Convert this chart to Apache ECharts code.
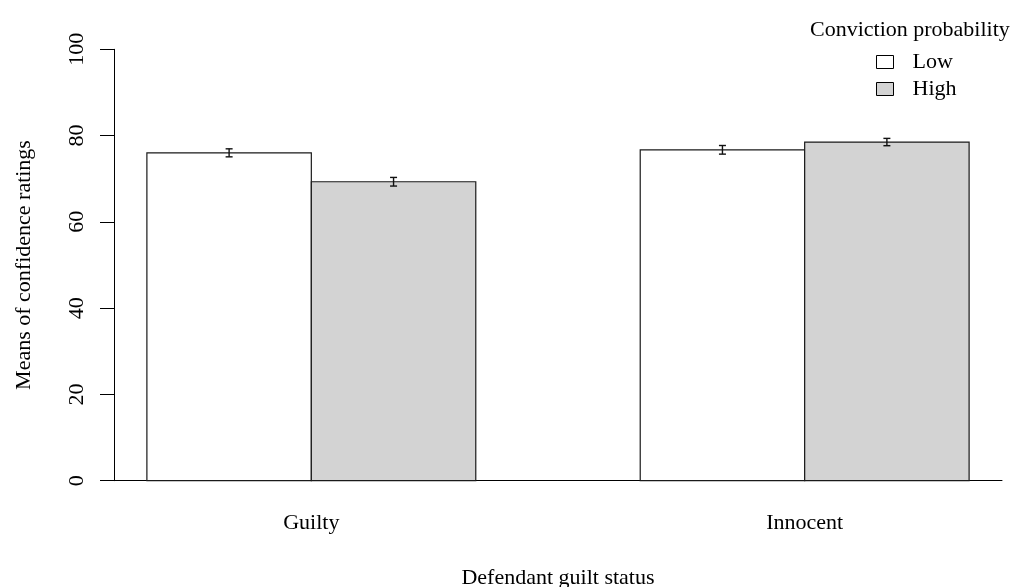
<!DOCTYPE html>
<html>
<head>
<meta charset="utf-8">
<script src="https://cdn.jsdelivr.net/npm/echarts@6/dist/echarts.min.js"></script>
<style>
  html, body { margin: 0; padding: 0; background: #ffffff; }
  #chart { width: 1016px; height: 587px; }
</style>
</head>
<body>
<div id="chart"></div>
<script>
// Mean confidence ratings by defendant guilt status and conviction probability
const categories = ['Guilty', 'Innocent'];
const levels = ['Low', 'High'];
const lowMeans = [76.0, 76.7];
const highMeans = [69.3, 78.5];
const lowSE = [0.93, 1.0];
const highSE = [1.0, 0.85];
const yTicks = [0, 20, 40, 60, 80, 100];

const FONT = "'Liberation Serif', 'DejaVu Serif', serif";
const fills = { Low: '#ffffff', High: '#d3d3d3' };

// barplot layout in bar-width units: one empty bar between groups, plus 0.2 padding
const groupCenter = i => 1.2 + 3 * i;
const barCenter = (i, j) => groupCenter(i) + (j - 0.5);

function seriesData(means, se, j) {
  return means.map((v, i) => [barCenter(i, j), v, se[i]]);
}

function barRenderer(fill) {
  return function (params, api) {
    const x = api.value(0);
    const v = api.value(1);
    const tl = api.coord([x - 0.5, v]);
    const br = api.coord([x + 0.5, 0]);
    return {
      type: 'rect',
      shape: { x: tl[0], y: tl[1], width: br[0] - tl[0], height: br[1] - tl[1] },
      style: { fill: fill, stroke: '#1a1a1a', lineWidth: 1.2 }
    };
  };
}

function errRenderer(params, api) {
  const x = api.value(0);
  const v = api.value(1);
  const se = api.value(2);
  const top = api.coord([x, v + se]);
  const bot = api.coord([x, v - se]);
  const half = 3.5;
  const st = { stroke: '#111', lineWidth: 1.4 };
  return {
    type: 'group',
    children: [
      { type: 'line', shape: { x1: top[0], y1: top[1], x2: bot[0], y2: bot[1] }, style: st },
      { type: 'line', shape: { x1: top[0] - half, y1: top[1], x2: top[0] + half, y2: top[1] }, style: st },
      { type: 'line', shape: { x1: bot[0] - half, y1: bot[1], x2: bot[0] + half, y2: bot[1] }, style: st }
    ]
  };
}

const chart = echarts.init(document.getElementById('chart'), null, { renderer: 'canvas', width: 1016, height: 587 });

const option = {
  backgroundColor: '#ffffff',
  animation: false,
  title: {
    text: 'Conviction probability',
    left: 810,
    top: 19,
    padding: 0,
    textStyle: { fontFamily: FONT, fontSize: 22, fontWeight: 'normal', color: '#000', lineHeight: 22 }
  },
  legend: {
    orient: 'vertical',
    left: 876,
    top: 51,
    padding: 0,
    itemWidth: 17,
    itemHeight: 13,
    itemGap: 5,
    icon: 'rect',
    textStyle: { fontFamily: FONT, fontSize: 22, color: '#000', lineHeight: 22, padding: [0, 0, 0, 14] },
    data: levels.map(l => ({
      name: l,
      itemStyle: { color: fills[l], borderColor: '#000', borderWidth: 1 }
    }))
  },
  grid: { left: 114, width: 888, top: 49.3, height: 431.4, outerBoundsMode: 'none', containLabel: false },
  xAxis: {
    type: 'value',
    min: 0,
    max: 5.4,
    interval: 0.6,
    splitLine: { show: false },
    axisTick: { show: false },
    axisLine: { show: true, onZero: false, lineStyle: { color: '#000', width: 1 } },
    axisLabel: {
      margin: 32,
      fontFamily: FONT,
      fontSize: 22,
      color: '#000',
      showMinLabel: false,
      showMaxLabel: false,
      formatter: function (val) {
        for (let i = 0; i < categories.length; i++) {
          if (Math.abs(val - groupCenter(i)) < 1e-6) return categories[i];
        }
        return '';
      }
    },
    name: 'Defendant guilt status',
    nameLocation: 'middle',
    nameGap: 87,
    nameTextStyle: { fontFamily: FONT, fontSize: 22, color: '#000' }
  },
  yAxis: {
    type: 'value',
    min: 0,
    max: 100,
    interval: 20,
    splitLine: { show: false },
    axisLine: { show: true, lineStyle: { color: '#000', width: 1 } },
    axisTick: { show: true, length: 14, lineStyle: { color: '#000', width: 1 } },
    axisLabel: {
      rotate: 90,
      margin: 26,
      fontFamily: FONT,
      fontSize: 22,
      color: '#000',
      formatter: v => (yTicks.indexOf(v) >= 0 ? String(v) : '')
    },
    name: 'Means of confidence ratings',
    nameLocation: 'middle',
    nameGap: 79,
    nameRotate: 90,
    nameTextStyle: { fontFamily: FONT, fontSize: 22, color: '#000' }
  },
  series: [
    {
      name: 'Low',
      type: 'custom',
      itemStyle: { color: fills.Low },
      renderItem: barRenderer(fills.Low),
      data: seriesData(lowMeans, lowSE, 0),
      z: 2
    },
    {
      name: 'High',
      type: 'custom',
      itemStyle: { color: fills.High },
      renderItem: barRenderer(fills.High),
      data: seriesData(highMeans, highSE, 1),
      z: 2
    },
    {
      name: 'Low SE',
      type: 'custom',
      renderItem: errRenderer,
      data: seriesData(lowMeans, lowSE, 0),
      z: 3
    },
    {
      name: 'High SE',
      type: 'custom',
      renderItem: errRenderer,
      data: seriesData(highMeans, highSE, 1),
      z: 3
    }
  ]
};

chart.setOption(option);
</script>
</body>
</html>
